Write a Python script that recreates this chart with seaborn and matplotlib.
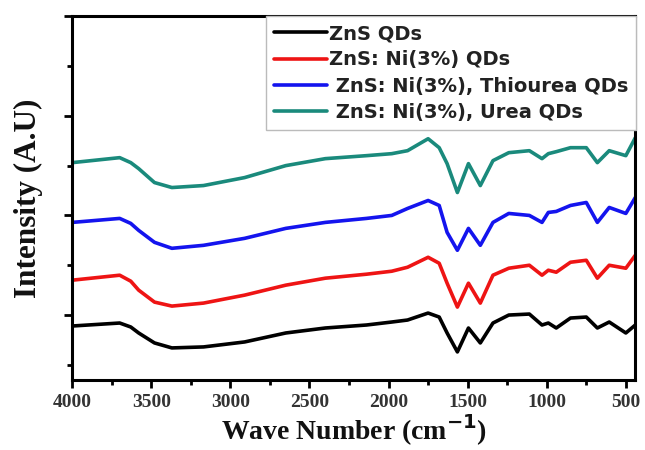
import pandas as pd
import matplotlib
matplotlib.use("Agg")
import matplotlib.pyplot as plt
from matplotlib.ticker import MultipleLocator
import seaborn as sns

# ── FTIR spectra (offset traces) ────────────────────────────────────────────
wavenumber = [4000, 3700, 3630, 3580, 3480, 3370, 3170, 2910, 2650, 2400, 2140,
              1980, 1880, 1750, 1680, 1630, 1565, 1495, 1420, 1340, 1240,
              1110, 1030, 990, 940, 850, 750, 680, 605, 500, 440]

zns = [0.89, 0.92, 0.88, 0.82, 0.72, 0.67, 0.68, 0.73, 0.82, 0.87, 0.90,
       0.93, 0.95, 1.02, 0.98, 0.82, 0.63, 0.87, 0.72, 0.92, 1.00,
       1.01, 0.90, 0.92, 0.87, 0.97, 0.98, 0.87, 0.93, 0.82, 0.90]

zns_ni = [1.35, 1.40, 1.34, 1.25, 1.13, 1.09, 1.12, 1.20, 1.30, 1.37, 1.41,
          1.44, 1.48, 1.58, 1.52, 1.32, 1.08, 1.32, 1.12, 1.40, 1.47,
          1.50, 1.40, 1.45, 1.43, 1.53, 1.55, 1.37, 1.50, 1.47, 1.60]

zns_ni_thiourea = [1.93, 1.97, 1.92, 1.85, 1.73, 1.67, 1.70, 1.77, 1.87, 1.93, 1.97,
                   2.00, 2.07, 2.15, 2.10, 1.83, 1.65, 1.87, 1.70, 1.93, 2.02,
                   2.00, 1.93, 2.03, 2.04, 2.10, 2.13, 1.93, 2.08, 2.02, 2.18]

zns_ni_urea = [2.53, 2.58, 2.53, 2.47, 2.33, 2.28, 2.30, 2.38, 2.50, 2.57, 2.60,
               2.62, 2.65, 2.77, 2.68, 2.52, 2.23, 2.52, 2.30, 2.55, 2.63,
               2.65, 2.57, 2.62, 2.64, 2.68, 2.68, 2.53, 2.65, 2.60, 2.78]

labels = ["ZnS QDs", "ZnS: Ni(3%) QDs",
          " ZnS: Ni(3%), Thiourea QDs", " ZnS: Ni(3%), Urea QDs"]
colors = ["#000000", "#ee1414", "#1414ee", "#1a8a7c"]

frames = []
for lbl, vals in zip(labels, [zns, zns_ni, zns_ni_thiourea, zns_ni_urea]):
    frames.append(pd.DataFrame({"wn": wavenumber, "intensity": vals, "sample": lbl}))
df = pd.concat(frames, ignore_index=True)

sns.set_theme(style="white")
plt.rcParams["font.family"] = ["DejaVu Sans"]

fig = plt.figure(figsize=(6.45, 4.5), dpi=100)
ax = fig.add_axes([0.112, 0.156, 0.873, 0.808])

sns.lineplot(data=df, x="wn", y="intensity", hue="sample", hue_order=labels,
             palette=colors, linewidth=2.6, estimator=None, ax=ax)

ax.set_xlim(4000, 440)
ax.set_ylim(0.35, 4.0)

ax.xaxis.set_major_locator(MultipleLocator(500))
ax.xaxis.set_minor_locator(MultipleLocator(250))
ax.yaxis.set_major_locator(MultipleLocator(1))
ax.yaxis.set_minor_locator(MultipleLocator(0.5))
ax.tick_params(axis="both", which="both", bottom=True, left=True,
               top=False, right=False)
ax.tick_params(axis="both", which="major", direction="out", length=6, width=2,
               color="black")
ax.tick_params(axis="both", which="minor", direction="out", length=3.5, width=2,
               color="black")
ax.tick_params(axis="y", which="both", labelleft=False)
ax.tick_params(axis="x", pad=4)
for t in ax.get_xticklabels():
    t.set_family("Liberation Serif")
    t.set_fontweight("bold")
    t.set_fontsize(14)
    t.set_color("#333333")

for s in ax.spines.values():
    s.set_visible(True)
    s.set_color("black")
    s.set_linewidth(2.2)

ax.set_xlabel("Wave Number (cm$^{\\mathbf{-1}}$)", family="Liberation Serif",
              fontweight="bold", fontsize=20, labelpad=1, color="#111111")
ax.set_ylabel("Intensity (A.U)", family="Liberation Serif",
              fontweight="bold", fontsize=22.5, labelpad=15, color="#111111")

handles, lbls = ax.get_legend_handles_labels()
leg = ax.legend(handles, lbls, loc="upper left",
                bbox_to_anchor=(266 / 645, 1 - 16 / 450),
                bbox_transform=fig.transFigure,
                prop={"family": "DejaVu Sans", "weight": "bold", "size": 14},
                handlelength=2.7, handletextpad=0.1, labelspacing=0.37,
                borderpad=0.42, borderaxespad=0, fancybox=False,
                frameon=True, edgecolor="#bbbbbb", framealpha=1)
leg.get_frame().set_linewidth(1)
for h in leg.get_lines():
    h.set_linewidth(2.6)
for t in leg.get_texts():
    t.set_color("#222222")

fig.savefig("out.png", dpi=100, facecolor="white")
